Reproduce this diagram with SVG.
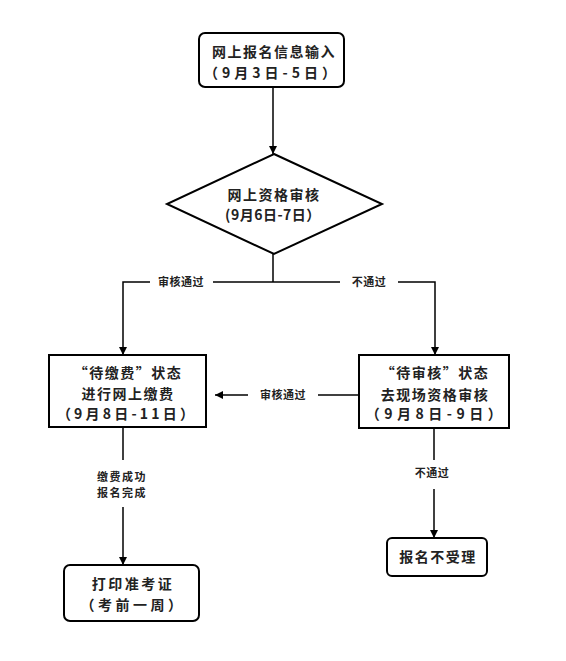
<svg xmlns="http://www.w3.org/2000/svg" width="566" height="661" viewBox="0 0 566 661">
<style>
.box{fill:#fff;stroke:#000;stroke-width:2}
.t{font-family:"Noto Sans CJK SC","Liberation Sans",sans-serif;font-size:14px;font-weight:bold;fill:#222;text-anchor:middle;letter-spacing:1.5px}
.d{letter-spacing:4px}
.l{font-family:"Noto Sans CJK SC","Liberation Sans",sans-serif;font-size:11px;font-weight:bold;fill:#222;text-anchor:middle;letter-spacing:0.5px}
.c{fill:none;stroke:#000;stroke-width:1.5}
</style>
<defs>
<marker id="ah" markerWidth="10" markerHeight="10" refX="9" refY="5" orient="auto" markerUnits="userSpaceOnUse">
<path d="M1,1 L9,5 L1,9 Z" fill="#000"/>
</marker>
</defs>
<rect width="566" height="661" fill="#fff"/>
<g id="connectors">
<line class="c" x1="273" y1="87" x2="273" y2="154" marker-end="url(#ah)"/>
<line class="c" x1="273" y1="254" x2="273" y2="282"/>
<polyline class="c" points="150,282 123,282 123,355" marker-end="url(#ah)"/>
<line class="c" x1="213" y1="282" x2="340" y2="282"/>
<polyline class="c" points="398,282 435,282 435,355" marker-end="url(#ah)"/>
<line class="c" x1="359" y1="395" x2="318" y2="395"/>
<line class="c" x1="248" y1="395" x2="215" y2="395" marker-end="url(#ah)"/>
<line class="c" x1="123" y1="427" x2="123" y2="460"/>
<line class="c" x1="123" y1="507" x2="123" y2="565" marker-end="url(#ah)"/>
<line class="c" x1="434" y1="428" x2="434" y2="460"/>
<line class="c" x1="434" y1="489" x2="434" y2="538" marker-end="url(#ah)"/>
<text class="l" x="181" y="286">审核通过</text>
<text class="l" x="369" y="286">不通过</text>
<text class="l" x="283" y="399">审核通过</text>
<text class="l" x="122" y="481" style="letter-spacing:1.5px">缴费成功</text>
<text class="l" x="122" y="497" style="letter-spacing:1.5px">报名完成</text>
<text class="l" x="432" y="477">不通过</text>
</g>
<g id="n1">
<rect class="box" x="199" y="33" width="145" height="54" rx="6"/>
<text class="t" x="274" y="57">网上报名信息输入</text>
<text class="t d" x="272" y="78">（9月3日-5日）</text>
</g>
<g id="n2">
<polygon class="box" points="274,154 382,204 274,254 167,204"/>
<text class="t" x="274" y="200">网上资格审核</text>
<text class="t" x="273" y="220" style="letter-spacing:0.5px">(9月6日-7日）</text>
</g>
<g id="n3">
<rect class="box" x="49" y="355" width="157" height="72"/>
<text class="t" x="128" y="378">“待缴费”状态</text>
<text class="t" x="128" y="399">进行网上缴费</text>
<text class="t" x="127" y="419" style="letter-spacing:3.2px">（9月8日-11日）</text>
</g>
<g id="n4">
<rect class="box" x="359" y="355" width="150" height="73"/>
<text class="t" x="435" y="378">“待审核”状态</text>
<text class="t" x="435" y="400">去现场资格审核</text>
<text class="t" x="436" y="419" style="letter-spacing:4.5px">（9月8日-9日）</text>
</g>
<g id="n5">
<rect class="box" x="64" y="565" width="135" height="56" rx="6"/>
<text class="t" x="133" y="589" style="letter-spacing:2.5px">打印准考证</text>
<text class="t" x="133" y="610" style="letter-spacing:3.5px">（考前一周）</text>
</g>
<g id="n6">
<rect class="box" x="387" y="538" width="100" height="38" rx="5"/>
<text class="t" x="438" y="562">报名不受理</text>
</g>
</svg>
